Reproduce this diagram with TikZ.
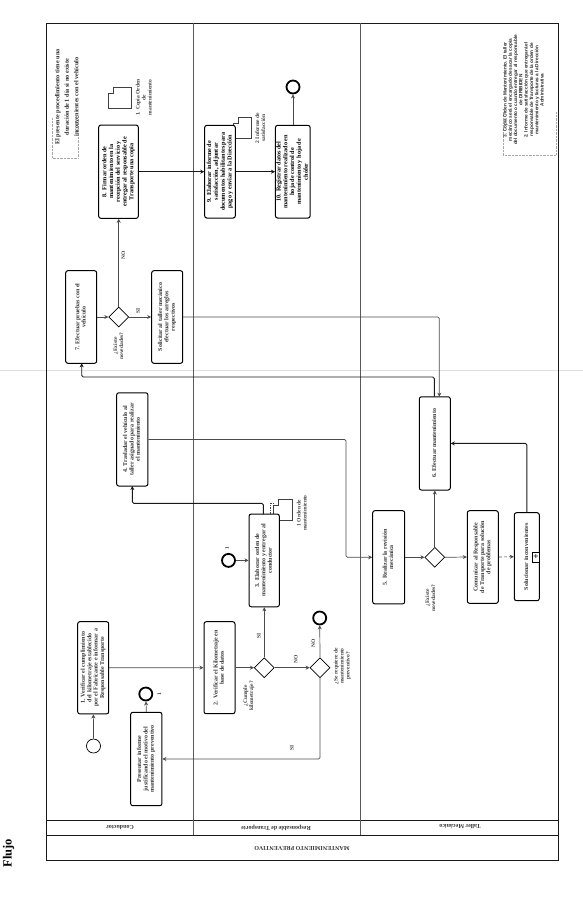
\documentclass[tikz,border=0pt]{standalone}
\usepackage{fontspec}
\setmainfont{Liberation Serif}
\newfontfamily\notesans{Liberation Sans}
\usetikzlibrary{shapes.geometric,arrows.meta}
\newcommand{\vtxt}[1]{\rotatebox{90}{\begin{tabular}{@{}c@{}}#1\end{tabular}}}
\newcommand{\docpath}[4]{% x0 y0 x1 y1
  \draw[docline,fill=white] (#1,#2+6) -- (#1+5,#2+6) -- (#1+5,#2) -- (#3,#2) -- (#3,#4) -- (#1,#4) -- cycle;}
\tikzset{
  frameline/.style={line width=1pt,draw=black!90},
  laneline/.style={line width=1pt,draw=black!65},
  taskbox/.style={draw=black,line width=1pt,rounded corners=2.2pt,fill=white,inner sep=0pt,
    font=\fontsize{6}{6.4}\selectfont\bfseries,text=black!80},
  strongbox/.style={taskbox,font=\fontsize{6.2}{6.8}\selectfont\bfseries,text=black},
  gate/.style={diamond,draw=black,line width=0.7pt,aspect=1,minimum width=20pt,minimum height=20pt,inner sep=0pt,fill=white},
  startev/.style={circle,draw=black,line width=0.7pt,minimum size=14pt,inner sep=0pt},
  endev/.style={circle,draw=black,line width=1.8pt,minimum size=13pt,inner sep=0pt},
  flow/.style={line width=0.7pt,draw=black!70,rounded corners=1.5pt,-{Stealth[length=4pt,width=4pt]}},
  strongflow/.style={flow,line width=0.9pt,draw=black!90},
  docline/.style={line width=0.7pt,draw=black!75},
  note/.style={inner sep=0pt,font=\fontsize{5.5}{6}\selectfont\bfseries,text=black!75},
  strongnote/.style={inner sep=0pt,font=\fontsize{6.2}{9.5}\selectfont\bfseries,text=black!85},
  sansnote/.style={inner sep=0pt,font=\notesans\fontsize{4.7}{5.3}\selectfont\bfseries,text=black!85},
  lanelabel/.style={inner sep=0pt,rotate=180,font=\fontsize{6}{6.5}\selectfont\bfseries,text=black!80},
  bracket/.style={line width=0.4pt,draw=black!35,densely dotted},
}
\begin{document}
\begin{tikzpicture}[x=1pt,y=-1pt]
\useasboundingbox (0,0) rectangle (583,910);
% scan fold
\draw[line width=0.8pt,draw=black!12] (0,370.7) -- (583,370.7);
% title
\node[inner sep=0pt,font=\fontsize{12.5}{13}\selectfont\bfseries] (flujo) at (8.5,853) {\rotatebox{90}{Flujo}};
% pool
\draw[frameline] (46,23) rectangle (558.7,860.7);
\draw[frameline] (46,835) -- (558.7,835);
\draw[frameline] (46,820) -- (558.7,820);
\draw[laneline] (193,23) -- (193,835);
\draw[laneline] (360.7,23) -- (360.7,835);
\node[lanelabel] (pool) at (302,848) {MANTENIMIENTO PREVENTIVO};
\node[lanelabel] (l1) at (120,827.7) {Conductor};
\node[lanelabel] (l2) at (276,827.7) {Responsable de Transporte};
\node[lanelabel] (l3) at (460,826.7) {Taller Mecánico};
% documents (behind boxes)
\docpath{108.7}{87.3}{131}{108.3}
\docpath{233}{117.3}{251.7}{138.3}
\docpath{273.3}{499}{292.3}{520}
% tasks
\node[taskbox,minimum width=31pt,minimum height=92.3pt] (t1) at (93.2,667.8) {\vtxt{1. Verificar el cumplimiento\\del kilometraje establecido\\por el Fabricante e informar a\\Responsable Transporte}};
\node[taskbox,minimum width=31.3pt,minimum height=93.4pt] (tp) at (146.3,759) {\vtxt{Presentar informe\\justificando el motivo del\\mantenimiento preventivo}};
\node[taskbox,minimum width=31pt,minimum height=92pt] (t2) at (219.5,667.7) {\vtxt{2. Verificar el Kilometraje en\\base de datos}};
\node[taskbox,minimum width=30.3pt,minimum height=92.7pt] (t3) at (264.2,560.4) {\vtxt{3. Elaborar orden de\\mantenimiento y entregar al\\conductor}};
\node[taskbox,minimum width=31.3pt,minimum height=93.3pt] (t4) at (132.3,439.4) {\vtxt{4. Trasladar el vehículo al\\taller asignado para realizar\\el mantenimiento}};
\node[taskbox,minimum width=32pt,minimum height=93.3pt] (t5) at (388.7,557.3) {\vtxt{5. Realizar la revisión\\mecánica}};
\node[taskbox,minimum width=31pt,minimum height=93.3pt] (t6) at (434.8,443.4) {\vtxt{6. Efectuar mantenimiento}};
\node[taskbox,minimum width=31pt,minimum height=92.6pt] (t7) at (81.2,317) {\vtxt{7. Efectuar pruebas con el\\vehículo}};
\node[taskbox,minimum width=31pt,minimum height=92.6pt] (ts) at (167.2,317) {\vtxt{Solicitar al taller mecánico\\efectuar los arreglos\\respectivos}};
\node[taskbox,minimum width=31pt,minimum height=92.6pt] (tc) at (482.8,557) {\vtxt{Comunicar al Responsable\\de Transporte para solución\\de problemas}};
\node[taskbox,minimum width=25pt,minimum height=88pt] (ti) at (526.8,556.7) {\vtxt{Solucionar inconvenientes}};
\node[draw=black,line width=0.9pt,fill=white,minimum width=7pt,minimum height=10pt,inner sep=0pt,font=\fontsize{9}{9}\selectfont\bfseries] (plus) at (536,557) {+};
\node[strongbox,minimum width=39.6pt,minimum height=93.3pt] (t8) at (118.5,171.7) {\vtxt{8. Firmar orden de\\mantenimiento en la\\recepción del servicio y\\entregar al responsable de\\Transporte una copia}};
\node[strongbox,minimum width=30.6pt,minimum height=92.7pt] (t9) at (220,171.7) {\vtxt{9. Elaborar informe de\\satisfacción, adjuntar\\documentos habilitantes para\\pago y enviar a la Dirección}};
\node[strongbox,minimum width=34.7pt,minimum height=92.7pt] (t10) at (292.8,171.7) {\vtxt{10. Registrar datos del\\mantenimiento realizado en\\hoja de control de\\mantenimiento y hoja de\\chófer}};
% gateways
\node[gate] (g1) at (264.3,667.7) {};
\node[gate] (g2) at (118.7,317) {};
\node[gate] (g3) at (434.8,557.3) {};
\node[gate] (g4) at (320,667.7) {};
% events
\node[startev] (s1) at (93.5,746) {};
\node[endev] (e1) at (145.8,694) {};
\node[endev] (e2) at (228.5,560.4) {};
\node[endev] (e3) at (293,87) {};
\node[endev] (e4) at (319.7,618) {};
% helper coordinates
\coordinate (c34) at (132.3,503.3);
\coordinate (c45) at (346,500);
\coordinate (c6a) at (439.3,396.7);
\coordinate (c6b) at (434.3,396.7);
\coordinate (c67a) at (434.3,377);
\coordinate (c67b) at (81.7,377);
\coordinate (c7in) at (81.7,363.3);
\coordinate (c3out) at (263.3,514);
\coordinate (c3a) at (263.3,503.3);
\coordinate (c4in) at (132.3,486);
\coordinate (cia) at (526.8,443.4);
\coordinate (cib) at (526.8,512.7);
% flows
\draw[flow] (s1) -- (t1);
\draw[flow] (t1.east) -- (t2.west);
\draw[flow] (tp.north) -- (e1);
\draw[flow] (t2.east) -- (g1.west);
\draw[flow] (g1.north) -- (g1.north |- t3.south);
\draw[flow] (g1.east) -- (g4.west);
\draw[flow] (g4.north) -- (e4);
\draw[flow] (g4.south) |- (tp.east);
\draw[flow] (e2) -- (t3.west);
\draw[strongflow] (c3out) -- (c3a) -- (c34) -- (c4in);
\draw[flow] (t4.east) -| (c45) |- (t5.west);
\draw[flow] (t5.east) -- (g3.west);
\draw[flow] (g3.north) -- (t6.south);
\draw[flow] (g3.east) -- (tc.west);
\draw[flow,densely dashed] (tc.east) -- (ti.west);
\draw[strongflow] (cib) -- (cia) -- (t6.east);
\draw[flow] (ts.east) -| (c6a);
\draw[strongflow] (c6b) -- (c67a) -- (c67b) -- (c7in);
\draw[flow] (t7.east) -- (g2.west);
\draw[flow] (g2.east) -- (ts.west);
\draw[flow] (g2.north) -- (g2.north |- t8.south);
\draw[strongflow] (t8.east) -- (t9.west);
\draw[strongflow] (t9.east) -- (t10.west);
\draw[flow] (t10.north -| e3) -- (e3);
% association
\draw[docline,densely dotted] (270,514) -- (270,503) -- (273.3,503);
% brackets
\draw[bracket] (52,118) -- (52,158) -- (78,158) -- (78,116);
\draw[bracket] (503,112) -- (503,155) -- (556,155) -- (556,112);
% labels
\node[note] (n1) at (160,694) {\vtxt{1}};
\node[note] (n2) at (227.7,547.7) {\vtxt{1}};
\node[note] (yes1) at (259.3,636) {\vtxt{SI}};
\node[note] (no1) at (296.5,659) {\vtxt{NO}};
\node[note] (no2) at (314,643) {\vtxt{NO}};
\node[note] (yes2) at (292.3,748.3) {\vtxt{SI}};
\node[note] (yes3) at (138.7,310.7) {\vtxt{SI}};
\node[note] (no3) at (124,255) {\vtxt{NO}};
\node[note] (q1) at (249,696) {\vtxt{¿Cumple\\kilometraje?}};
\node[note] (q2) at (342.5,666) {\vtxt{¿Se requiere de\\mantenimiento\\preventivo?}};
\node[note] (q3) at (119,346) {\vtxt{¿Existe\\novedades?}};
\node[note] (q4) at (431,598) {\vtxt{¿Existe\\novedades?}};
\node[note] (d1) at (302.5,513) {\vtxt{1 Orden de\\mantenimiento}};
\node[note] (d2) at (144.5,97.5) {\vtxt{1. Copia Orden\\de\\mantenimiento}};
\node[note] (d3) at (261,128) {\vtxt{2 Informe de\\satisfacción}};
\node[strongnote] (a1) at (67,97) {\vtxt{El presente procedimiento tiene una\\duración de 1 día si no existe\\inconvenientes con el vehículo}};
\node[sansnote] (a2) at (524,90) {\vtxt{3. Copia Orden de Mantenimiento. El taller\\mecánico será el encargado de sacar la copia\\del documento o cuando entregar al responsable\\de DIRIBIDEN\\2. Informe de satisfacción que entregará el\\responsable de Transporte de la orden de\\mantenimiento y facturas a la Dirección\\Administrativa}};
\end{tikzpicture}
\end{document}
